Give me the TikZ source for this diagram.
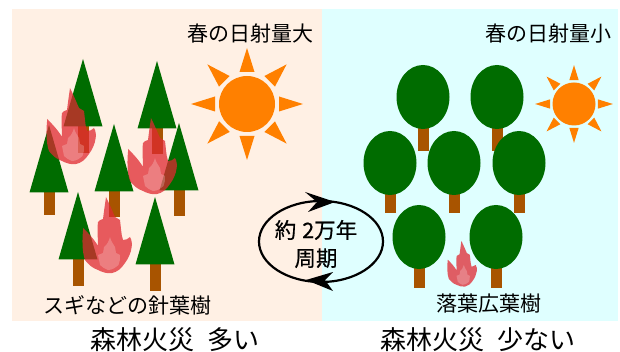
\documentclass[tikz,border=0pt]{standalone}
\usepackage{fontspec}
\setmainfont{Noto Sans CJK JP}
\definecolor{warmbg}{HTML}{FFF0E4}
\definecolor{coolbg}{HTML}{DFFFFF}
\definecolor{leaf}{HTML}{006C00}
\definecolor{bark}{HTML}{A85400}
\definecolor{sunor}{HTML}{FF8000}
\definecolor{flame}{HTML}{E02831}
\tikzset{
  lbl/.style={inner sep=0pt,text=black,font=\fontsize{21pt}{24pt}\selectfont},
  biglbl/.style={inner sep=0pt,text=black,font=\fontsize{26pt}{28pt}\selectfont},
  cyc/.style={inner sep=0pt,text=black,font=\fontsize{21.5pt}{28pt}\selectfont\addfontfeature{FakeBold=.5},align=center},
}
% conifer: apex x, apex y, y of the trunk's foot
\newcommand{\conifer}[3]{%
  \fill[bark] (#1-5.5,#2+60) rectangle (#1+5.5,#3);
  \fill[leaf] (#1,#2) -- (#1+19.5,#2+67.5) -- (#1-19.5,#2+67.5) -- cycle;
}
% broadleaf: crown centre x, y, y of the trunk's foot
\newcommand{\broadleaf}[3]{%
  \fill[bark] (#1-5.5,#2+20) rectangle (#1+5.5,#3);
  \fill[leaf] (#1,#2) ellipse [x radius=26.5,y radius=32];
}
% flame in a 50 x 77 box, origin at the box's top left corner
\newcommand{\flame}[3]{%
  \begin{scope}[shift={(#1,#2)},scale=#3]
    \fill[flame,fill opacity=.75]
      (1.3,31) .. controls (6,36) and (12,42) .. (16,49)
      .. controls (16,41) and (15,33) .. (16,25)
      .. controls (17,23) and (19,23) .. (21,22)
      .. controls (22,14) and (23,7) .. (24,0)
      .. controls (27,6) and (30,13) .. (33,20)
      -- (38,23) .. controls (39,30) and (39,37) .. (41,43)
      .. controls (44,43) and (46,42) .. (48,40)
      .. controls (50,43) and (50,47) .. (49.7,50)
      .. controls (49,56) and (46,62) .. (43,66)
      .. controls (39,72) and (35,75) .. (30,76)
      .. controls (25,77) and (20,75) .. (16,73)
      .. controls (10,71) and (6,67) .. (3,63)
      .. controls (0,55) and (0,42) .. (1.3,31) -- cycle;
    \fill[white,fill opacity=.22]
      (28,40) .. controls (29,44) and (31,47) .. (33,50)
      -- (34,56) -- (38,58) .. controls (38,62) and (38,65) .. (36.5,68)
      .. controls (33,71) and (30,73) .. (26,73)
      .. controls (23,72) and (20,70) .. (18,68)
      -- (16,58) -- (21,56) -- (22,50) .. controls (25,48) and (27,44) .. (28,40) -- cycle;
  \end{scope}%
}
% sun: rays are triangles set around a disc
\newcommand{\sun}[4]{%
  \fill[sunor] (#1,#2) circle [radius=#3];
  \foreach \a in {0,45,...,315} {
    \fill[sunor,rotate around={\a:(#1,#2)}]
      (#1+#3+4*#4,#2-7.5*#4) -- (#1+#3+4*#4,#2+7.5*#4) -- (#1+#3+28*#4,#2) -- cycle;
  }%
}
\begin{document}
\begin{tikzpicture}[x=1pt,y=-1pt]
\useasboundingbox (0,0) rectangle (620,352);
\fill[warmbg] (12,9) rectangle (322,321);
\fill[coolbg] (322,9) rectangle (618,321);

% left stand of conifers
\conifer{83}{59}{153}
\conifer{157}{61}{154}
\conifer{49}{125}{215}
\conifer{114}{124}{217}
\conifer{179}{123}{216}
\conifer{78}{192}{286}
\conifer{155}{197}{291}
\flame{46}{88}{1}
\flame{127}{118}{1}
\flame{82}{197}{1}

% suns
\sun{247}{104}{28}{1}
\sun{574}{104}{21.5}{.62}

% right stand of broadleaf trees
\broadleaf{423}{97}{151}
\broadleaf{497}{97}{151}
\broadleaf{390}{163}{213}
\broadleaf{454}{163}{213}
\broadleaf{519}{163}{213}
\broadleaf{419}{237}{288}
\broadleaf{496}{237}{288}
\flame{447}{241}{.6}

% labels
\node[lbl,anchor=east] (sunA) at (314,34) {春の日射量大};
\node[lbl,anchor=east] (sunB) at (612,34) {春の日射量小};
\node[lbl,anchor=west] (kindA) at (43,305) {スギなどの針葉樹};
\node[lbl,anchor=east] (kindB) at (542,304) {落葉広葉樹};
\node[biglbl,anchor=west] (fireA) at (90,340) {森林火災\hspace{13pt}多い};
\node[biglbl,anchor=west] (fireB) at (380,340) {森林火災\hspace{13pt}少ない};
\node[cyc] (period) at (316,244) {約\hspace{6pt}2万年\\周期};

% cycle arrows: two half ellipses with their heads
\coordinate (arcTop) at (321,201);
\coordinate (arcBot) at (321,282);
\draw[line width=2.2pt] (arcTop) .. controls (286.8,201) and (259,219.2) .. (259,241.5)
  .. controls (259,263.9) and (286.8,282) .. (arcBot);
\draw[line width=2.2pt] (arcBot) .. controls (355.2,282) and (383,263.9) .. (383,241.5)
  .. controls (383,219.2) and (355.2,201) .. (arcTop);
\fill (305,192) -- (335,202) -- (308,212) -- (317,202) -- cycle;
\fill (333,272) -- (306,280) -- (333,291) -- (325,280) -- cycle;
\end{tikzpicture}
\end{document}
